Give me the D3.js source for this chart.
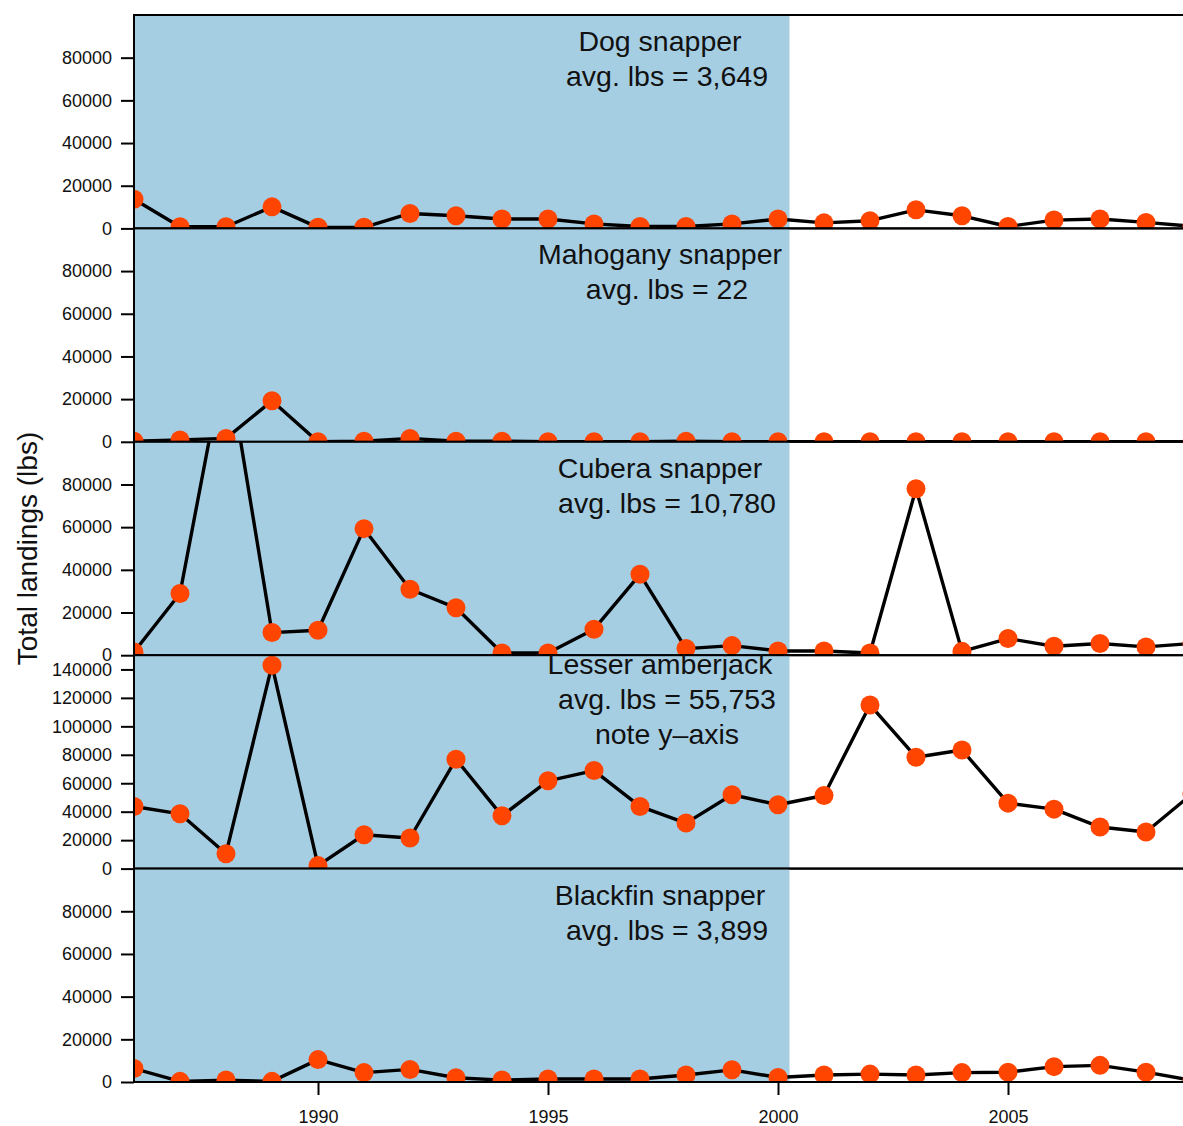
<!DOCTYPE html>
<html>
<head>
<meta charset="utf-8">
<script src="https://cdn.jsdelivr.net/npm/d3@7"></script>
<style>
  body { margin: 0; background: #fff; }
  text { font-family: "Liberation Sans", Arial, Helvetica, sans-serif; fill: #111; }
</style>
</head>
<body>
<svg id="chart" width="1183" height="1126"></svg>
<script>
// Years of record
const years = [1986, 1987, 1988, 1989, 1990, 1991, 1992, 1993, 1994, 1995, 1996, 1997,
               1998, 1999, 2000, 2001, 2002, 2003, 2004, 2005, 2006, 2007, 2008, 2009];

// Total landings (lbs) per species and year
const dogSnapper = [13700, 800, 800, 10100, 500, 500, 7000, 5900, 4400, 4400, 2100, 900,
                    900, 2100, 4400, 2600, 3600, 8700, 5900, 900, 3900, 4400, 2800, 1000];
const mahoganySnapper = [300, 900, 1600, 19200, 0, 300, 1600, 300, 300, 0, 0, 0,
                         300, 0, 0, 0, 0, 0, 0, 0, 0, 0, 0, 0];
const cuberaSnapper = [1500, 28900, 142000, 10600, 11700, 59300, 30900, 22200, 1000, 1000, 12200, 37900,
                       3100, 4500, 2000, 2000, 1000, 78000, 1800, 7800, 4200, 5500, 3900, 5500];
const lesserAmberjack = [43700, 38500, 10500, 143000, 2100, 23800, 21500, 76900, 37100, 61700, 68900, 43700,
                         32000, 51900, 44900, 51400, 115000, 78300, 83400, 46000, 41800, 29200, 25700, 52500];
const blackfinSnapper = [6300, 300, 900, 300, 10500, 4400, 5900, 2000, 900, 1400, 1400, 1400,
                         3300, 5700, 2100, 3300, 3700, 3300, 4400, 4600, 7200, 7800, 4600, 800];

// Panel labels
const speciesNames = ["Dog snapper", "Mahogany snapper", "Cubera snapper", "Lesser amberjack", "Blackfin snapper"];
const avgLabels = ["avg. lbs = 3,649", "avg. lbs = 22", "avg. lbs = 10,780", "avg. lbs = 55,753", "avg. lbs = 3,899"];
const extraNotes = [null, null, null, "note y\u2013axis", null];

// Axis settings
const yMax = [100000, 100000, 100000, 150000, 100000];
const yTicksStd = [0, 20000, 40000, 60000, 80000];
const yTicksWide = [0, 20000, 40000, 60000, 80000, 100000, 120000, 140000];
const xTicks = [1990, 1995, 2000, 2005];
const shadedPeriod = [1986, 2000.25];
const yLabel = "Total landings (lbs)";

const seriesList = [dogSnapper, mahoganySnapper, cuberaSnapper, lesserAmberjack, blackfinSnapper];

const svg = d3.select("#chart");
const left = 134, right = 1192, top0 = 15, bottom0 = 1082;
const panelH = (bottom0 - top0) / seriesList.length;

const x = d3.scaleLinear().domain([1986, 2009]).range([left, right]);

seriesList.forEach((vals, i) => {
  const top = top0 + i * panelH;
  const bottom = top + panelH;
  const y = d3.scaleLinear().domain([0, yMax[i]]).range([bottom, top]);
  const data = years.map((yr, k) => ({ year: yr, value: vals[k] }));

  const clipId = "clip-" + i;
  svg.append("clipPath").attr("id", clipId)
    .append("rect")
    .attr("x", left).attr("y", top)
    .attr("width", right - left).attr("height", panelH);

  const g = svg.append("g").attr("clip-path", `url(#${clipId})`);

  // shaded early period
  g.append("rect")
    .attr("x", x(shadedPeriod[0]))
    .attr("y", top)
    .attr("width", x(shadedPeriod[1]) - x(shadedPeriod[0]))
    .attr("height", panelH)
    .attr("fill", "#A6CEE3");

  // landings line
  g.append("path")
    .datum(data)
    .attr("fill", "none")
    .attr("stroke", "#000")
    .attr("stroke-width", 3.4)
    .attr("stroke-linejoin", "round")
    .attr("d", d3.line().x(d => x(d.year)).y(d => y(d.value)));

  // yearly points
  g.selectAll("circle")
    .data(data)
    .join("circle")
    .attr("cx", d => x(d.year))
    .attr("cy", d => y(d.value))
    .attr("r", 9.5)
    .attr("fill", "#FF4500");

  // panel frame
  svg.append("rect")
    .attr("x", left).attr("y", top)
    .attr("width", right - left).attr("height", panelH)
    .attr("fill", "none")
    .attr("stroke", "#000")
    .attr("stroke-width", 2);

  // y axis
  const yAxis = d3.axisLeft(y)
    .tickValues(i === 3 ? yTicksWide : yTicksStd)
    .tickSize(13)
    .tickPadding(9)
    .tickFormat(d3.format("d"));
  const ya = svg.append("g").attr("transform", `translate(${left},0)`).call(yAxis);
  ya.select(".domain").remove();
  ya.selectAll(".tick line").attr("stroke", "#000").attr("stroke-width", 2);
  ya.selectAll(".tick text")
    .style("font-family", '"Liberation Sans", Arial, sans-serif')
    .style("font-size", "18px")
    .attr("fill", "#222");

  // panel title block, centered vertically near the panel top
  const lines = [speciesNames[i], avgLabels[i]];
  if (extraNotes[i]) lines.push(extraNotes[i]);
  const lineH = 35;
  const blockCenter = top + 43.5;
  const xc = x(1997.5);
  lines.forEach((t, k) => {
    svg.append("text")
      .attr("x", k === 0 ? xc - 3 : xc + 4)
      .attr("y", blockCenter + (k - (lines.length - 1) / 2) * lineH)
      .attr("dy", "0.35em")
      .attr("text-anchor", "middle")
      .style("font-size", "28.5px")
      .text(t);
  });
});

// shared x axis
const xAxis = d3.axisBottom(x).tickValues(xTicks).tickSize(13).tickPadding(15).tickFormat(d3.format("d"));
const xa = svg.append("g").attr("transform", `translate(0,${bottom0})`).call(xAxis);
xa.select(".domain").remove();
xa.selectAll(".tick line").attr("stroke", "#000").attr("stroke-width", 2);
xa.selectAll(".tick text")
  .style("font-family", '"Liberation Sans", Arial, sans-serif')
  .style("font-size", "18px")
  .attr("fill", "#222");

// y axis title
svg.append("text")
  .attr("transform", `translate(27,${(top0 + bottom0) / 2}) rotate(-90)`)
  .attr("text-anchor", "middle")
  .attr("dy", "0.35em")
  .style("font-size", "28px")
  .text(yLabel);
</script>
</body>
</html>
